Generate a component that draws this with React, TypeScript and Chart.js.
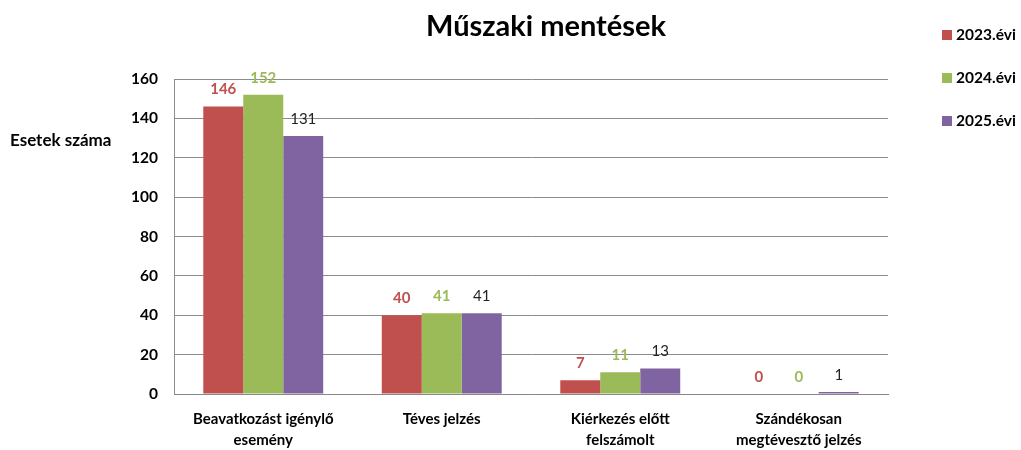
import React, { useEffect, useRef } from "react";
import { Chart, registerables } from "chart.js";

Chart.register(...registerables);

const categories: string[][] = [
  ["Beavatkozást igénylő", "esemény"],
  ["Téves jelzés"],
  ["Kiérkezés előtt", "felszámolt"],
  ["Szándékosan", "megtévesztő jelzés"],
];
const seriesNames = ["2023.évi", "2024.évi", "2025.évi"];
const values2023 = [146, 40, 7, 0];
const values2024 = [152, 41, 11, 0];
const values2025 = [131, 41, 13, 1];
const colors = ["#C0504D", "#9BBB59", "#8064A2"];
const labelColors = ["#C0504D", "#9BBB59", "#222222"];
const labelBold = [true, true, false];
const titleText = "Műszaki mentések";
const yTitle = "Esetek száma";

const FONT = "Lato, 'Open Sans', 'Noto Sans', sans-serif";

const decorPlugin = {
  id: "decor",
  afterDatasetsDraw(chart: any) {
    const ctx = chart.ctx;
    ctx.save();
    // data labels
    chart.data.datasets.forEach((ds: any, di: number) => {
      const meta = chart.getDatasetMeta(di);
      meta.data.forEach((bar: any, i: number) => {
        ctx.font = `${labelBold[di] ? "bold " : ""}15px ${FONT}`;
        ctx.fillStyle = labelColors[di];
        ctx.textAlign = "center";
        ctx.textBaseline = "middle";
        ctx.fillText(String(ds.data[i]), bar.x, bar.y - 17);
      });
    });
    // title
    ctx.font = `bold 29px ${FONT}`;
    ctx.fillStyle = "#000";
    ctx.textAlign = "center";
    ctx.textBaseline = "middle";
    ctx.fillText(titleText, 546, 27);
    // y title
    ctx.font = `bold 17px ${FONT}`;
    ctx.textAlign = "left";
    ctx.fillText(yTitle, 10, 141);
    // legend
    const ys = [35, 78, 121];
    seriesNames.forEach((n, i) => {
      ctx.fillStyle = colors[i];
      ctx.fillRect(942, ys[i] - 5, 10, 10);
      ctx.fillStyle = "#000";
      ctx.font = `bold 15.5px ${FONT}`;
      ctx.textAlign = "left";
      ctx.fillText(n, 956, ys[i]);
    });
    ctx.restore();
  },
};

export default function App() {
  const ref = useRef<HTMLCanvasElement>(null);
  useEffect(() => {
    if (!ref.current) return;
    const chart = new Chart(ref.current, {
      type: "bar",
      data: {
        labels: categories,
        datasets: [values2023, values2024, values2025].map((d, i) => ({
          label: seriesNames[i],
          data: d,
          backgroundColor: colors[i],
          borderWidth: 0,
          barPercentage: 1.0,
          categoryPercentage: 0.672,
        })),
      },
      options: {
        animation: false,
        responsive: false,
        maintainAspectRatio: false,
        layout: { padding: { top: 79, right: 133, left: 0, bottom: 0 } },
        plugins: { legend: { display: false }, title: { display: false }, tooltip: { enabled: false } },
        scales: {
          x: {
            grid: { display: false, drawTicks: false },
            border: { display: true, color: "#888888" },
            ticks: {
              color: "#000",
              font: { family: FONT, size: 15, weight: "bold", lineHeight: 1.45 },
              padding: 14,
              maxRotation: 0,
              autoSkip: false,
            },
            afterFit(scale: any) {
              scale.height = 56;
            },
          },
          y: {
            min: 0,
            max: 160,
            ticks: {
              stepSize: 20,
              color: "#000",
              font: { family: FONT, size: 15.5, weight: "bold" },
              padding: 16,
            },
            grid: { color: "#8c8c8c", drawTicks: false, lineWidth: 1 },
            border: { display: true, color: "#8c8c8c" },
            afterFit(scale: any) {
              scale.width = 174;
            },
          },
        },
      },
      plugins: [decorPlugin],
    } as any);
    return () => chart.destroy();
  }, []);
  return (
    <div style={{ position: "fixed", left: 0, top: 0, width: 1021, height: 450, background: "#fff" }}>
      <canvas ref={ref} width={1021} height={450} />
    </div>
  );
}
